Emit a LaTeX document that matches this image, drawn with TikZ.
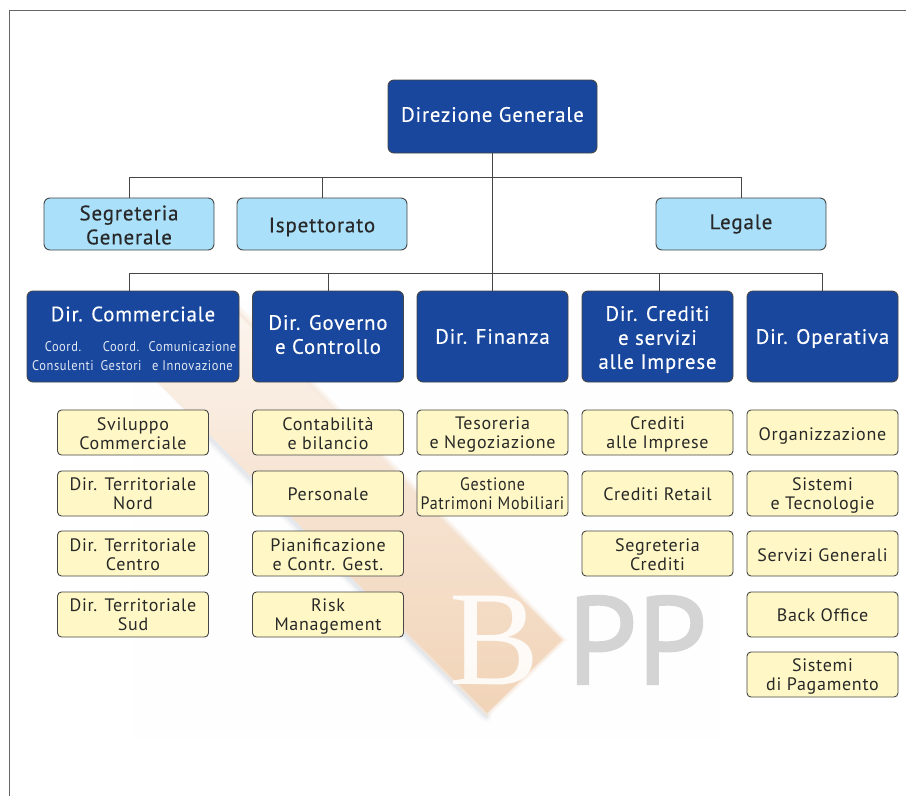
\documentclass[tikz,border=0pt]{standalone}
\usepackage{fontspec}
\setmainfont[LetterSpace=4]{PT Sans}
\newfontfamily\hdfont[LetterSpace=4,FakeBold=0.35]{PT Sans}
\newfontfamily\nrfont[LetterSpace=4,FakeStretch=0.89]{PT Sans}
\newfontfamily\wmfont[FakeBold=1.5]{PT Sans}
\newfontfamily\wbfont{Liberation Serif}
\definecolor{navy}{RGB}{24,71,157}
\definecolor{sky}{RGB}{170,224,250}
\definecolor{cream}{RGB}{255,248,198}
\definecolor{ink}{RGB}{40,40,40}
\definecolor{edge}{RGB}{70,70,70}
\definecolor{bandA}{RGB}{252,246,240}
\definecolor{bandB}{RGB}{246,226,208}
\definecolor{bandC}{RGB}{241,212,184}
\definecolor{shadowc}{RGB}{150,165,185}
\tikzset{
  x=1pt,y=-1pt,
  boxbase/.style={rounded corners=6pt,draw=edge,line width=0.9pt,inner sep=0pt},
  dark/.style={boxbase,fill=navy,minimum height=91pt,minimum width=151pt},
  lite/.style={boxbase,fill=sky,minimum height=52pt,minimum width=170pt},
  pale/.style={boxbase,rounded corners=4pt,fill=cream,minimum height=45pt,minimum width=151pt},
  darktext/.style={inner sep=0pt,align=center,text=white,font=\hdfont\fontsize{20.8}{24}\selectfont},
  litetext/.style={inner sep=0pt,align=center,text=ink,font=\hdfont\fontsize{21}{24}\selectfont},
  paletext/.style={inner sep=0pt,align=center,text=ink,font=\fontsize{18}{19}\selectfont},
  wire/.style={draw=edge,line width=1pt},
  small/.style={font=\nrfont\fontsize{14}{19}\selectfont,align=center,text=white!88!navy,inner sep=0pt},
}
% style, name, x, y, downward shift of the text, text
\newcommand\bx[6]{\node[#1,label={[#1text,yshift=-#5pt]center:{#6}}] (#2) at (#3,#4) {};}
\begin{document}
\begin{tikzpicture}
\useasboundingbox (0,0) rectangle (906,796);
\fill[white] (0,0) rectangle (906,796);
% watermark
\fill[black!0.5] (132,300) rectangle (720,740);
\foreach \w/\o in {12/0.05,8/0.08,4/0.12}{
  \draw[shadowc,opacity=\o,line width=\w pt,line cap=round] (200,428) -- (486,716);
}
\foreach \d/\o in {5/0.25,3/0.3,1.5/0.4}{
  \fill[bandB,opacity=\o] (75,300-\d) -- (224+\d,300-\d) -- (562+\d,640) -- (487,713+\d) -- cycle;
}
\shade[top color=bandA,bottom color=bandC,middle color=bandB] (75,300) -- (224,300) -- (562,640) -- (487,713) -- cycle;
\node[opacity=0.88,text=white,font=\wbfont\fontsize{135}{135}\selectfont,inner sep=0pt] (wb) at (495,640) {B};
\node[text=black!17,font=\wmfont\fontsize{125}{125}\selectfont,inner sep=0pt] (wp) at (637,640) {PP};
% boxes
\node[dark,minimum width=209pt,minimum height=73pt,label={[darktext,yshift=2pt]center:Direzione Generale}] (dg) at (492.5,116.5) {};
\bx{lite}{seg}{129}{224}{1}{Segreteria\\Generale}
\bx{lite}{isp}{322}{224}{3}{Ispettorato}
\bx{lite}{leg}{741}{224}{0}{Legale}
\node[dark,minimum width=212pt] (com) at (133,336.5) {};
\bx{dark}{gov}{328}{336.5}{-2}{Dir. Governo\\e Controllo}
\bx{dark}{fin}{492.5}{336.5}{0}{Dir. Finanza}
\bx{dark}{cre}{657.5}{336.5}{3}{Dir. Crediti\\e servizi\\alle Imprese}
\bx{dark}{ope}{822.5}{336.5}{2}{Dir. Operativa}
\node[darktext] (comt) at (133,314) {Dir. Commerciale};
\node[small] (c1) at (63,356.5) {Coord.\\Consulenti};
\node[small] (c2) at (121,356.5) {Coord.\\Gestori};
\node[small] (c3) at (192.5,356.5) {Comunicazione\\e Innovazione};
% sub boxes
\bx{pale}{a1}{133}{432.5}{1}{Sviluppo\\Commerciale}
\bx{pale}{a2}{133}{493.5}{0.5}{Dir. Territoriale\\Nord}
\bx{pale}{a3}{133}{553.5}{1}{Dir. Territoriale\\Centro}
\bx{pale}{a4}{133}{614.5}{0.5}{Dir. Territoriale\\Sud}
\bx{pale}{b1}{328}{432.5}{1}{Contabilità\\e bilancio}
\bx{pale}{b2}{328}{493.5}{1}{Personale}
\bx{pale}{b3}{328}{553.5}{1}{Pianificazione\\e Contr. Gest.}
\bx{pale}{b4}{328}{614.5}{2.5}{Risk\\Management}
\bx{pale}{d1}{492.5}{432.5}{2}{Tesoreria\\e Negoziazione}
\bx{pale}{d2}{492.5}{493.5}{0.5}{\nrfont Gestione\\\nrfont Patrimoni Mobiliari}
\bx{pale}{e1}{657.5}{432.5}{2}{Crediti\\alle Imprese}
\bx{pale}{e2}{657.5}{493.5}{1}{Crediti Retail}
\bx{pale}{e3}{657.5}{553.5}{1.5}{Segreteria\\Crediti}
\bx{pale}{f1}{822.5}{432.5}{3}{Organizzazione}
\bx{pale}{f2}{822.5}{493.5}{1.5}{Sistemi\\e Tecnologie}
\bx{pale}{f3}{822.5}{553.5}{1.5}{Servizi Generali}
\bx{pale}{f4}{822.5}{614.5}{1}{Back Office}
\bx{pale}{f5}{822.5}{674.5}{2}{Sistemi\\di Pagamento}
% connectors
\coordinate (barA) at (0,177);
\coordinate (barB) at (0,273);
\coordinate (comtop) at (129,291);
\coordinate (cretop) at (659,291);
\draw[wire] (dg.south) -- (fin.north);
\draw[wire] (seg.north) -- (seg.north |- barA) -- (leg.north |- barA) -- (leg.north);
\draw[wire] (isp.north) -- (isp.north |- barA);
\draw[wire] (comtop) -- (comtop |- barB) -- (ope.north |- barB) -- (ope.north);
\draw[wire] (gov.north) -- (gov.north |- barB);
\draw[wire] (cretop) -- (cretop |- barB);
% frame
\coordinate (fa) at (9,796);
\coordinate (fb) at (9,10);
\coordinate (fc) at (906,10);
\draw[draw=black!60,line width=1pt] (fa) -- (fb) -- (fc);
\end{tikzpicture}
\end{document}
